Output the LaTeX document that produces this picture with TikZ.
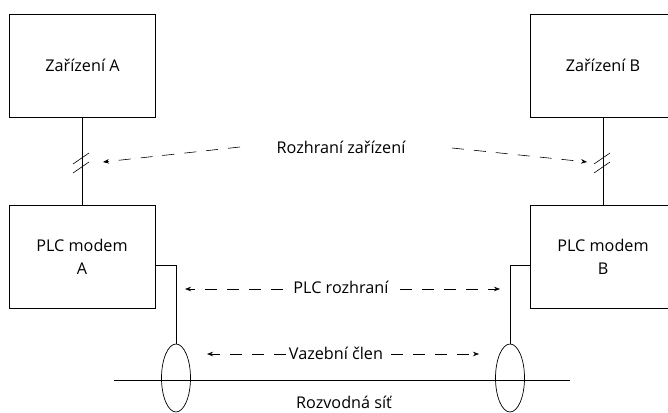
\documentclass[tikz,border=0pt]{standalone}
\usepackage{fontspec}
\setmainfont{Open Sans}
\usetikzlibrary{arrows.meta,shapes.geometric}
\begin{document}
\begin{tikzpicture}[x=1pt,y=-1pt,
  every node/.style={font=\fontsize{16.2}{18}\selectfont},
  boxnode/.style={draw,line width=0.7pt,minimum width=146pt,minimum height=103pt,inner sep=0pt},
  wire/.style={line width=0.7pt},
  darr/.style={line width=0.6pt,dash pattern=on 12pt off 10pt,-{Stealth[length=6pt,width=4.5pt]}},
  lbl/.style={inner sep=0pt,anchor=base}]
\useasboundingbox (0,0) rectangle (668,412);
\clip (0,0) rectangle (668,412);
% boxes
\node[boxnode] (za) at (82,66) {};
\node[lbl] (tza) at (82.5,71) {Zařízení A};
\node[boxnode] (zb) at (603,66) {};
\node[lbl] (tzb) at (603,71) {Zařízení B};
\node[boxnode] (ma) at (82,257) {};
\node[lbl] (tma1) at (82,251) {PLC modem};
\node[lbl] (tma2) at (82,274) {A};
\node[boxnode] (mb) at (603,257) {};
\node[lbl] (tmb1) at (603,251) {PLC modem};
\node[lbl] (tmb2) at (603,274) {B};
% vertical links
\draw[wire] (za.south) -- (ma.north);
\draw[wire] (zb.south) -- (mb.north);
% break marks
\draw[wire,line width=0.6pt] (73,164) -- (89,153) (73,173) -- (89,162);
\draw[wire,line width=0.6pt] (594,164) -- (610,153) (594,173) -- (610,162);
% ellipses and power line
\node[draw,line width=0.7pt,ellipse,minimum width=29pt,minimum height=68pt,inner sep=0pt] (ea) at (176,378) {};
\node[draw,line width=0.7pt,ellipse,minimum width=29pt,minimum height=68pt,inner sep=0pt] (eb) at (510,378) {};
\coordinate (ls) at (114,380);
\coordinate (le) at (570,380);
\draw[wire] (ls) -- (le);
% modem to coupler
\draw[wire] (ma.east |- 0,265) -| (ea.north);
\draw[wire] (mb.west |- 0,265) -| (eb.north);
% labels
\node[lbl] (rz) at (341,153) {Rozhraní zařízení};
\node[lbl] (pr) at (341,293) {PLC rozhraní};
\node[lbl] (vc) at (336,359) {Vazební člen};
\node[lbl] (rs) at (344,408) {Rozvodná síť};
% arrows
\coordinate (rzl) at (240,147); \coordinate (rzlt) at (103,162);
\coordinate (rzr) at (452,148); \coordinate (rzrt) at (587,162);
\draw[darr] (rzl) -- (rzlt);
\draw[darr] (rzr) -- (rzrt);
\coordinate (prl) at (283,289); \coordinate (prlt) at (185,289);
\coordinate (prr) at (400,289); \coordinate (prrt) at (500,289);
\draw[darr] (prl) -- (prlt);
\draw[darr] (prr) -- (prrt);
\coordinate (vcl) at (286,354); \coordinate (vclt) at (207,354);
\coordinate (vcr) at (391,354); \coordinate (vcrt) at (479,354);
\draw[darr] (vcl) -- (vclt);
\draw[darr] (vcr) -- (vcrt);
\end{tikzpicture}
\end{document}
